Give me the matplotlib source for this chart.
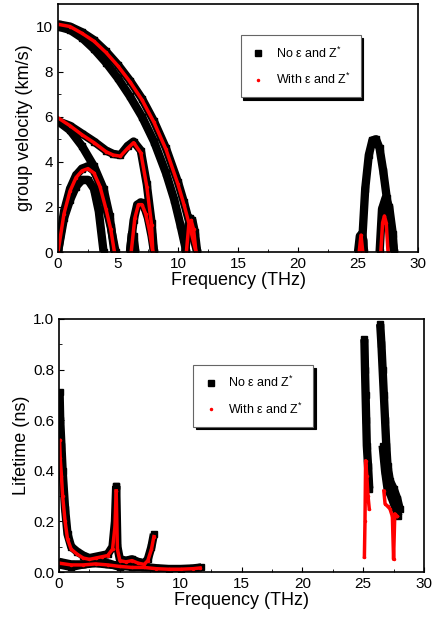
import matplotlib.pyplot as plt
import numpy as np

plt.rcParams['font.family'] = ['Liberation Sans', 'DejaVu Sans']
plt.rcParams['mathtext.fontset'] = 'custom'
plt.rcParams['mathtext.rm'] = 'Liberation Sans'

# ---- group velocity branches (freq THz, km/s) ----
vel_black = [
    ([0, 1, 2, 3, 4, 5, 6, 7, 8, 9, 10, 10.5, 11, 11.3, 11.6], [10.1, 10.0, 9.75, 9.4, 8.9, 8.3, 7.6, 6.8, 5.8, 4.6, 3.1, 2.2, 1.2, 0.6, 0.0]),
    ([0, 1, 2, 3, 4, 5, 6, 7, 8, 9, 9.7, 10.2, 10.7], [10.0, 9.85, 9.5, 9.0, 8.4, 7.7, 6.9, 6.0, 4.9, 3.5, 2.3, 1.2, 0.0]),
    ([0, 1, 2, 3, 4, 4.6, 5.2, 5.8, 6.3, 6.9, 7.4, 7.8, 8.0], [5.8, 5.6, 5.25, 4.9, 4.5, 4.35, 4.3, 4.7, 4.9, 4.5, 3.0, 1.3, 0.0]),
    ([0, 1, 2, 3, 3.8, 4.3, 4.7], [5.8, 5.4, 4.7, 3.8, 2.8, 1.6, 0.0]),
    ([0, 0.5, 1, 1.5, 2, 2.5, 3, 3.5, 4, 4.4, 4.8], [0.0, 1.8, 2.8, 3.4, 3.7, 3.8, 3.6, 3.0, 2.0, 1.1, 0.0]),
    ([0, 0.5, 1, 1.5, 2, 2.5, 3, 3.4, 3.8], [0.0, 1.5, 2.3, 2.9, 3.2, 3.2, 2.8, 1.8, 0.0]),
    ([6.0, 6.3, 6.6, 6.9, 7.2, 7.5, 7.8, 8.0], [0.0, 1.4, 2.1, 2.2, 2.0, 1.5, 0.7, 0.0]),
    ([6.0, 6.15, 6.3, 6.45], [0.0, 0.8, 0.7, 0.0]),
    ([10.6, 10.8, 11.0, 11.2, 11.4, 11.6], [0.0, 1.0, 1.5, 1.4, 0.9, 0.0]),
    ([25.0, 25.15, 25.3, 25.45, 25.5], [0.0, 0.7, 0.8, 0.5, 0.0]),
    ([25.3, 25.6, 25.9, 26.2, 26.5, 26.8, 27.1, 27.4, 27.7, 28.0], [0.0, 2.8, 4.3, 4.95, 5.0, 4.6, 3.6, 2.4, 1.2, 0.0]),
    ([26.8, 27.0, 27.3, 27.6, 27.9, 28.0], [0.0, 1.9, 2.4, 2.0, 0.8, 0.0]),
]
vel_red = [
    ([0, 1, 2, 3, 4, 5, 6, 7, 8, 9, 10, 10.5, 11, 11.5], [10.1, 10.0, 9.7, 9.35, 8.85, 8.25, 7.55, 6.75, 5.75, 4.55, 3.0, 2.1, 1.1, 0.0]),
    ([0, 1, 2, 3, 4, 4.6, 5.2, 5.8, 6.3, 6.9, 7.4, 7.8, 7.9], [5.95, 5.6, 5.2, 4.85, 4.45, 4.3, 4.25, 4.6, 4.85, 4.4, 2.9, 1.2, 0.0]),
    ([0, 0.5, 1, 1.5, 2, 2.5, 3, 3.5, 4, 4.4, 4.7], [0.0, 1.7, 2.7, 3.3, 3.6, 3.7, 3.5, 2.9, 1.9, 1.0, 0.0]),
    ([6.1, 6.4, 6.7, 7.0, 7.3, 7.6, 7.9], [0.0, 1.5, 2.1, 2.1, 1.7, 1.0, 0.0]),
    ([10.7, 10.9, 11.1, 11.3, 11.5], [0.0, 1.2, 1.4, 1.0, 0.0]),
    ([25.1, 25.25, 25.4], [0.0, 0.75, 0.0]),
    ([26.9, 27.05, 27.2, 27.35, 27.5], [0.0, 1.3, 1.6, 1.3, 0.0]),
]

# ---- lifetime branches (freq THz, ns) ----
life_black = [
    ([0.05, 0.1, 0.2, 0.3, 0.5, 0.7, 1.0, 1.5, 2.0, 2.5, 3.0, 3.5, 4.0, 4.4, 4.6, 4.7], [0.71, 0.6, 0.5, 0.4, 0.25, 0.15, 0.1, 0.08, 0.065, 0.055, 0.06, 0.065, 0.07, 0.1, 0.2, 0.34]),
    ([4.7, 4.8, 5.0, 5.5, 6.0, 6.5, 7.0, 7.3, 7.6, 7.8], [0.34, 0.1, 0.05, 0.045, 0.05, 0.04, 0.035, 0.05, 0.1, 0.15]),
    ([0, 1, 2, 3, 4, 5, 6, 7, 8, 9, 10, 11, 11.7], [0.04, 0.03, 0.03, 0.035, 0.03, 0.025, 0.02, 0.02, 0.015, 0.012, 0.012, 0.014, 0.018]),
    ([0, 1, 2, 3, 4, 5, 6, 7], [0.03, 0.02, 0.03, 0.04, 0.035, 0.02, 0.03, 0.02]),
    ([25.1, 25.15, 25.2, 25.25, 25.3, 25.4, 25.5], [0.92, 0.8, 0.7, 0.6, 0.5, 0.42, 0.33]),
    ([26.4, 26.5, 26.6, 26.7, 26.8, 26.9, 27.0, 27.2, 27.5, 27.8, 28.0], [0.98, 0.9, 0.8, 0.7, 0.6, 0.5, 0.42, 0.36, 0.33, 0.29, 0.25]),
    ([26.6, 26.8, 27.0, 27.3, 27.6, 27.9], [0.5, 0.4, 0.33, 0.3, 0.26, 0.22]),
]
life_red = [
    ([0.05, 0.1, 0.2, 0.3, 0.5, 0.7, 1.0, 1.5, 2.0, 2.5, 3.0, 3.5, 4.0, 4.4, 4.6, 4.7], [0.52, 0.45, 0.38, 0.3, 0.2, 0.13, 0.09, 0.07, 0.055, 0.05, 0.055, 0.06, 0.065, 0.09, 0.18, 0.32]),
    ([4.7, 4.8, 5.0, 5.5, 6.0, 6.5, 7.0, 7.3, 7.6, 7.8], [0.32, 0.09, 0.045, 0.04, 0.045, 0.035, 0.03, 0.045, 0.09, 0.14]),
    ([0, 1, 2, 3, 4, 5, 6, 7, 8, 9, 10, 11, 11.6], [0.035, 0.028, 0.028, 0.032, 0.028, 0.022, 0.018, 0.018, 0.013, 0.011, 0.011, 0.013, 0.016]),
    ([25.1, 25.15, 25.2, 25.3, 25.4, 25.5], [0.06, 0.2, 0.44, 0.38, 0.3, 0.25]),
    ([26.7, 26.8, 27.0, 27.2, 27.4, 27.5, 27.6, 27.8], [0.32, 0.27, 0.26, 0.25, 0.22, 0.05, 0.23, 0.22]),
]

label_no = 'No ε and Z$^{*}$'
label_with = 'With ε and Z$^{*}$'

fig = plt.figure(figsize=(4.36, 6.26), dpi=100)
ax1 = fig.add_axes([58 / 436, 1 - 252 / 626, 360 / 436, 248 / 626])
ax2 = fig.add_axes([59 / 436, 1 - 572 / 626, 365 / 436, 253 / 626])


def draw(ax, black, red):
    for x, y in black:
        ax.plot(x, y, color='k', lw=6, marker='s', ms=5, solid_capstyle='butt')
    for x, y in red:
        ax.plot(x, y, color='r', lw=2.5, marker='.', ms=3)


draw(ax1, vel_black, vel_red)
draw(ax2, life_black, life_red)

for ax in (ax1, ax2):
    ax.set_xlim(0, 30)
    ax.set_xticks([0, 5, 10, 15, 20, 25, 30])
    ax.set_xticks(np.arange(2.5, 30, 5), minor=True)
    ax.tick_params(which='both', direction='in', top=False, right=False, labelsize=11)
    ax.set_xlabel('Frequency (THz)', fontsize=13, labelpad=1)
    for s in ax.spines.values():
        s.set_linewidth(1.2)

ax1.set_ylim(0, 11)
ax1.set_yticks([0, 2, 4, 6, 8, 10])
ax1.set_yticks([1, 3, 5, 7, 9], minor=True)
ax1.set_ylabel('group velocity (km/s)', fontsize=13, labelpad=2)
ax2.set_ylim(0, 1.0)
ax2.set_yticks([0, 0.2, 0.4, 0.6, 0.8, 1.0])
ax2.set_yticks([0.1, 0.3, 0.5, 0.7, 0.9], minor=True)
ax2.set_ylabel('Lifetime (ns)', fontsize=13, labelpad=2)

for ax, loc in ((ax1, (0.49, 0.6)), (ax2, (0.35, 0.55))):
    hs = [plt.Line2D([], [], ls='none', marker='s', color='k', ms=5),
          plt.Line2D([], [], ls='none', marker='.', color='r', ms=3)]
    leg = ax.legend(hs, [label_no, label_with], loc='lower left', bbox_to_anchor=loc,
                    fontsize=9, frameon=True, fancybox=False,
                    shadow={'color': 'k', 'alpha': 1}, edgecolor='0.4',
                    handlelength=1.2, borderpad=0.8, labelspacing=0.9)
    leg.get_frame().set_linewidth(0.8)

fig.savefig('out.png', dpi=100)
